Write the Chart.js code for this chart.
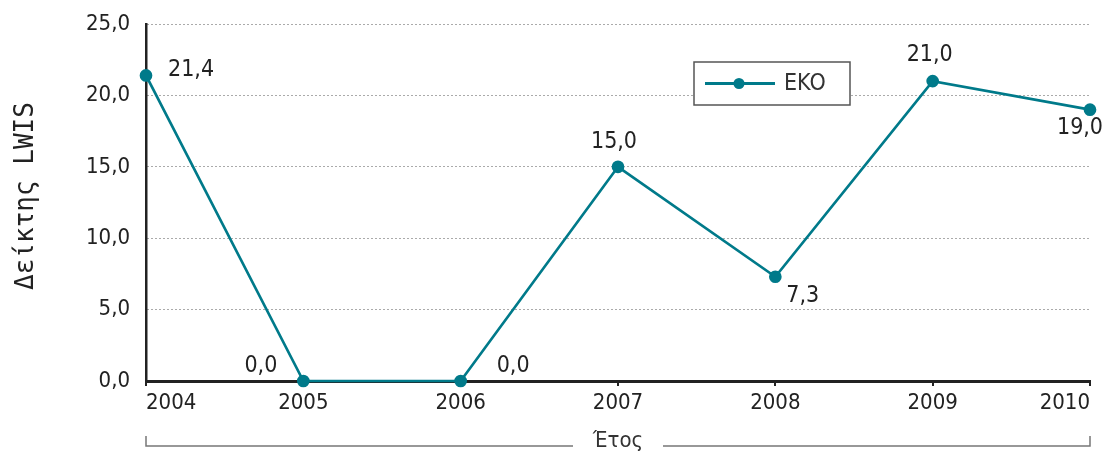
<!DOCTYPE html>
<html>
<head>
<meta charset="utf-8">
<script src="https://cdn.jsdelivr.net/npm/chart.js@4/dist/chart.umd.min.js"></script>
<style>
    body { margin: 0; background: #fff; }
    #wrap { width: 1108px; height: 453px; }
</style>
</head>
<body>
<div id="wrap"><canvas id="lineChart" width="1108" height="453"></canvas></div>
<script>
const years = ['2004', '2005', '2006', '2007', '2008', '2009', '2010'];
const ekoValues = [21.4, 0.0, 0.0, 15.0, 7.3, 21.0, 19.0];
const yTicks = [0, 5, 10, 15, 20, 25];
const seriesName = 'EKO';
const yTitle = 'Δείκτης LWIS';
const xTitle = 'Έτος';

const teal = 'rgb(0,122,138)';
const narrow = "'Liberation Sans Narrow', 'DejaVu Sans Condensed', sans-serif";

function fmt(v) {
    return v.toFixed(1).replace('.', ',');
}

// where each value label sits relative to its point
const labelPlace = [
    {dx: 22, dy: -5, align: 'left'},
    {dx: -26, dy: -15, align: 'right'},
    {dx: 36, dy: -15, align: 'left'},
    {dx: -4, dy: -25, align: 'center'},
    {dx: 11, dy: 19, align: 'left'},
    {dx: -3, dy: -26, align: 'center'},
    {dx: -10, dy: 18, align: 'center'}
];

const extras = {
    id: 'extras',
    afterDatasetsDraw(chart) {
        const ctx = chart.ctx;
        const area = chart.chartArea;
        const meta = chart.getDatasetMeta(0);
        ctx.save();
        // value labels
        ctx.font = '23px ' + narrow;
        ctx.fillStyle = '#222';
        ctx.textBaseline = 'middle';
        meta.data.forEach((pt, i) => {
            const p = labelPlace[i];
            ctx.textAlign = p.align;
            ctx.fillText(fmt(ekoValues[i]), pt.x + p.dx, pt.y + p.dy);
        });

        // legend box
        const bx = 694, by = 62, bw = 156, bh = 43;
        ctx.fillStyle = '#fff';
        ctx.fillRect(bx, by, bw, bh);
        ctx.strokeStyle = '#555';
        ctx.lineWidth = 1.5;
        ctx.strokeRect(bx, by, bw, bh);
        ctx.strokeStyle = teal;
        ctx.lineWidth = 3;
        ctx.beginPath();
        ctx.moveTo(705, 83.5);
        ctx.lineTo(775, 83.5);
        ctx.stroke();
        ctx.fillStyle = teal;
        ctx.beginPath();
        ctx.arc(739, 83.5, 5.5, 0, Math.PI * 2);
        ctx.fill();
        ctx.fillStyle = '#333';
        ctx.textAlign = 'left';
        ctx.font = '23px ' + narrow;
        ctx.fillText(seriesName, 784, 84);

        // y title
        ctx.save();
        ctx.translate(26, 196);
        ctx.rotate(-Math.PI / 2);
        ctx.textAlign = 'center';
        ctx.fillStyle = '#222';
        ctx.font = "26px 'DejaVu Sans Mono', monospace";
        ctx.fillText(yTitle, 0, 0);
        ctx.restore();

        // x title with bracket
        const cx = (area.left + area.right) / 2;
        const ty = 441;
        ctx.font = '22px ' + narrow;
        ctx.fillStyle = '#333';
        ctx.textAlign = 'center';
        ctx.fillText(xTitle, cx, ty);
        ctx.strokeStyle = '#777';
        ctx.lineWidth = 1.5;
        ctx.beginPath();
        ctx.moveTo(area.left, 436);
        ctx.lineTo(area.left, 446);
        ctx.lineTo(cx - 45, 446);
        ctx.moveTo(cx + 45, 446);
        ctx.lineTo(area.right, 446);
        ctx.lineTo(area.right, 436);
        ctx.stroke();
        ctx.restore();
    }
};

new Chart('lineChart', {
    type: 'line',
    data: {
        labels: years,
        datasets: [{
            label: seriesName,
            data: ekoValues,
            borderColor: teal,
            backgroundColor: teal,
            pointBackgroundColor: teal,
            pointBorderColor: teal,
            borderWidth: 2.7,
            pointRadius: 5,
            tension: 0,
            fill: false,
            clip: false
        }]
    },
    options: {
        responsive: false,
        animation: false,
        layout: {padding: {top: 24, right: 18, left: 0, bottom: 0}},
        plugins: {
            legend: {display: false},
            tooltip: {enabled: false}
        },
        scales: {
            x: {
                offset: false,
                afterFit(scale) {
                    scale.height = 72;
                    scale.paddingLeft = 0;
                    scale.paddingRight = 0;
                },
                grid: {
                    display: true,
                    drawOnChartArea: false,
                    drawTicks: true,
                    tickLength: 5,
                    color: '#222',
                    lineWidth: 2
                },
                border: {display: true, color: '#222', width: 3},
                ticks: {
                    color: '#222',
                    padding: 4,
                    maxRotation: 0,
                    align: 'inner',
                    font: {family: narrow, size: 22}
                }
            },
            y: {
                min: 0,
                max: 25,
                afterFit(scale) {
                    scale.width = 146;
                    scale.paddingTop = 0;
                    scale.paddingBottom = 0;
                },
                afterBuildTicks(scale) {
                    scale.ticks = yTicks.map(v => ({value: v}));
                },
                grid: {
                    color: '#555',
                    lineWidth: 1,
                    drawTicks: false
                },
                border: {display: true, color: '#222', width: 2.5, dash: [1, 3]},
                ticks: {
                    color: '#222',
                    padding: 16,
                    font: {family: narrow, size: 22},
                    callback: v => fmt(v)
                }
            }
        }
    },
    plugins: [extras]
});
</script>
</body>
</html>
